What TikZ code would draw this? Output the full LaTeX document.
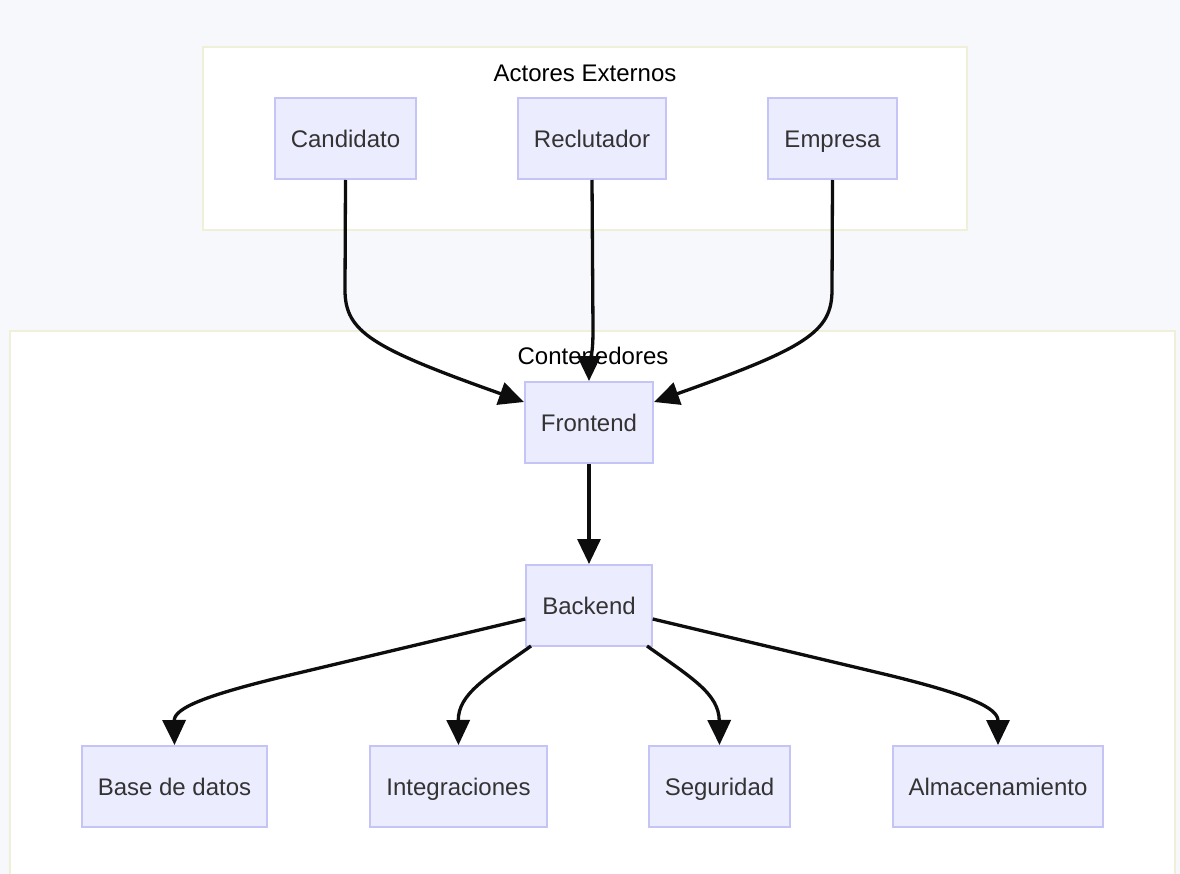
\documentclass[tikz,border=0pt]{standalone}
\usepackage{fontspec}
\setmainfont{Liberation Sans}
\usetikzlibrary{arrows.meta}
\definecolor{PageBack}{HTML}{F7F8FC}
\definecolor{ClusterFill}{HTML}{FFFFFF}
\definecolor{ClusterLine}{HTML}{F0F0D8}
\definecolor{BoxFill}{HTML}{ECECFF}
\definecolor{BoxLine}{HTML}{C4C4F6}
\definecolor{BoxText}{HTML}{333333}
\tikzset{
    cluster/.style={fill=ClusterFill, draw=ClusterLine, line width=1.5pt},
    cluster title/.style={font=\fontsize{24}{28}\selectfont, text=black},
    container/.style={
        rectangle, fill=BoxFill, draw=BoxLine, line width=2pt,
        minimum height=81pt, inner xsep=16pt, text height=22pt, text depth=4pt,
        font=\fontsize{24}{28}\selectfont, text=BoxText
    },
    flow/.style={line width=3.3pt, draw=black!95,
        -{Triangle[length=25pt, width=23pt]}},
}

\begin{document}
\begin{tikzpicture}[x=1pt, y=-1pt]

    \useasboundingbox (0,0) rectangle (1180,874);
    \fill[PageBack] (0,0) rectangle (1180,874);

    \draw[cluster] (203,47) rectangle (967,230);
    \draw[cluster] (10,331) rectangle (1175,884);
    \node[cluster title] (titleActores) at (585,73) {Actores Externos};
    \node[cluster title] (titleContenedores) at (593,356) {Contenedores};

    \node[container] (Candidato) at (345.5,138.5) {Candidato};
    \node[container] (Reclutador) at (592,138.5) {Reclutador};
    \node[container] (Empresa) at (832.5,138.5) {Empresa};

    \node[container] (Frontend) at (589,422.5) {Frontend};
    \node[container] (Backend) at (589,605.5) {Backend};

    \node[container] (BaseDatos) at (174.5,786.5) {Base de datos};
    \node[container] (Integraciones) at (458.5,786.5) {Integraciones};
    \node[container] (Seguridad) at (719.5,786.5) {Seguridad};
    \node[container] (Almacenamiento) at (998,786.5) {Almacenamiento};

    % actors to frontend
    \coordinate (FrontLeft) at (Frontend.west |- 0,402);
    \coordinate (FrontRight) at (Frontend.east |- 0,402);
    \draw[flow] (Candidato.south) -- (345,290)
        .. controls (345,332) and (372,348) .. (FrontLeft);
    \draw[flow] (Reclutador.south) -- (593,330)
        .. controls (593,360) and (589,362) .. (Frontend.north);
    \draw[flow] (Empresa.south) -- (832,290)
        .. controls (832,332) and (806,348) .. (FrontRight);

    \draw[flow] (Frontend.south) -- (Backend.north);

    % backend to services
    \coordinate (BackLeft) at (Backend.west |- 0,619);
    \coordinate (BackRight) at (Backend.east |- 0,619);
    \coordinate (BackLow) at (531,646);
    \coordinate (BackHigh) at (647,646);
    \draw[flow] (BackLeft) -- (290,675)
        .. controls (206,695) and (174,708) .. (BaseDatos.north);
    \draw[flow] (BackLow)
        .. controls (486,678) and (458,694) .. (Integraciones.north);
    \draw[flow] (BackHigh)
        .. controls (692,678) and (719,694) .. (Seguridad.north);
    \draw[flow] (BackRight) -- (888,675)
        .. controls (970,695) and (998,708) .. (Almacenamiento.north);

\end{tikzpicture}
\end{document}
